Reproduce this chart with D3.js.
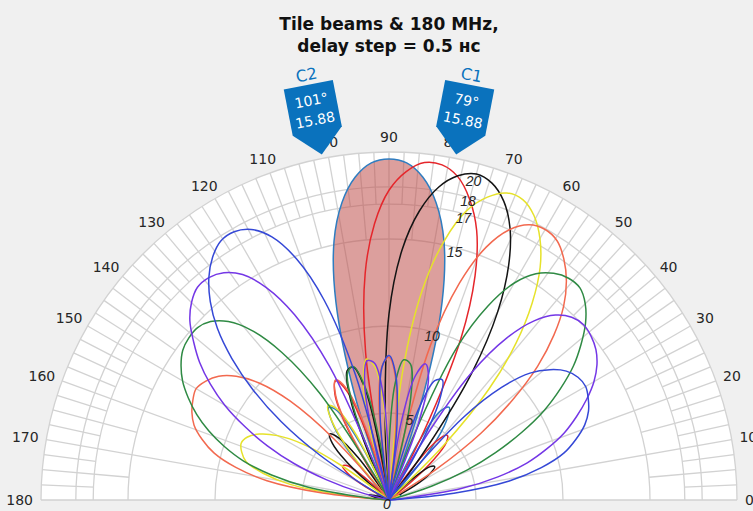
<!DOCTYPE html>
<html>
<head>
<meta charset="utf-8">
<script src="https://cdn.jsdelivr.net/npm/d3@7"></script>
<style>
  html, body { margin: 0; padding: 0; background: #f0f0f0; }
  svg { display: block; font-family: "DejaVu Sans", "Liberation Sans", Arial, sans-serif; }
</style>
</head>
<body>
<svg id="chart" width="753" height="511"></svg>
<script>
// Sampling angles (degrees) shared by every beam pattern
const thetaDeg = [0,3,6,9,12,15,18,21,24,27,30,33,36,39,42,45,48,51,54,57,60,
  63,66,69,72,75,78,81,84,87,90,93,96,99,102,105,108,111,114,117,120,
  123,126,129,132,135,138,141,144,147,150,153,156,159,162,165,168,171,174,177,180];

// Beam gain (radial value) for each delay setting, one value per angle above
const beam0 = [0,0,0,0,0,0,0,0.6,0.75,0.55,0,0,0,0,0,0,1.0,3.95,5.6,6.35,5.9,
  3.65,0,0,6.5,11.8,15.2,17.3,18.65,19.4,19.6,19.4,18.65,17.3,15.2,11.8,6.5,
  0,0,3.65,5.9,6.35,5.6,3.95,1.0,0,0,0,0,0,0,0.55,0.75,0.6,0,0,0,0,0,0,0];
const beam1 = [0,0,0,0,0,0,0,0,0,0,0,0,0,1.55,3.45,4.65,5.0,4.4,2.15,0,0,
  4.35,10.15,13.8,16.3,17.9,19.0,19.5,19.5,18.9,17.8,15.9,13.1,8.6,0,0,3.5,
  6.65,7.5,6.85,4.85,1.15,0,0,0,0.45,2.4,3.15,3.3,2.85,1.9,0.45,0,0,0,0,0,0,0,0,0];
const beam2 = [0,0,0,0,0,0,0,0,0,0.75,2.0,2.85,3.25,3.05,1.9,0,0,0,3.5,8.85,12.5,
  15.15,17.1,18.4,19.15,19.4,19.05,18.2,16.7,14.4,10.7,4.1,0,1.65,6.4,7.9,7.8,
  6.15,2.5,0,0,0,3.0,4.6,5.1,4.6,3.3,1.0,0,0,0,0,0,0,0.7,1.2,0.9,0,0,0,0];
const beam3 = [0,0,0,0,0,0,0,0.5,0.65,0.25,0,0,0,0,0,4.45,8.6,11.6,14.0,15.95,17.35,
  18.35,18.9,18.9,18.3,17.2,15.2,12.2,7.3,0,0,5.3,7.7,8.2,7.1,4.1,0,
  0,0.3,4.45,6.1,6.45,5.55,3.5,0,0,0,0,3.3,5.9,7.4,8.35,8.9,9.1,8.9,8.5,7.4,5.75,2.7,0,0];
const beam4 = [0,0,0,0,0,0,0,0,0,0,0,3.25,6.55,9.15,11.5,13.4,15.0,16.2,17.1,17.75,17.95,
  17.75,17.0,15.55,13.1,9.2,1.8,0,3.3,7.05,8.2,7.7,5.5,0.4,0,0,4.5,
  6.9,7.55,6.75,4.45,0,0,0,4.7,8.05,10.05,11.3,12.1,12.55,12.8,12.65,12.4,12.0,11.3,10.4,9.0,7.1,3.85,0,0];
const beam5 = [0,0,0,0,0,0.3,2.6,4.8,6.7,8.55,10.3,11.75,13.1,14.2,15.2,15.95,16.4,16.4,16.1,15.5,14.4,
  12.5,9.6,3.95,0,0.4,6.0,7.9,8.1,6.7,3.0,0,0,3.5,6.7,7.95,7.7,
  5.7,0.6,0,1.35,7.35,10.5,12.55,13.8,14.5,14.8,14.8,14.65,14.25,13.7,12.95,12.1,11.1,9.95,8.65,6.9,4.7,1.3,0,0];
const beam6 = [0,0,0.7,4.2,6.4,8.2,9.55,10.8,11.8,12.75,13.6,14.25,14.7,14.95,15.05,14.85,14.3,13.25,11.5,8.75,3.95,
  0,0,4.75,7.35,8.1,7.3,4.6,0,0,1.3,5.9,7.9,8.1,6.7,2.8,0,
  1.25,8.4,11.95,14.1,15.45,16.15,16.45,16.45,16.05,15.4,14.45,13.45,12.25,10.9,9.3,7.65,5.85,3.8,1.75,0,0,0,0,0];
const beam7 = [0,0,3.75,7.0,8.95,10.4,11.3,12.05,12.55,12.85,13.05,12.95,12.6,11.9,10.9,9.15,6.4,1.5,0,0,3.25,
  6.35,7.55,7.35,5.5,1.2,0,0,4.4,7.25,8.3,7.65,4.9,0,0,7.45,12.1,
  14.85,16.55,17.45,17.8,17.75,17.25,16.45,15.35,13.95,12.15,10.05,7.65,4.75,1.3,0,0,0,0,0,0,0,0,0,0];

const beams = [beam0, beam1, beam2, beam3, beam4, beam5, beam6, beam7];
const beamColors = ["#2f7dc0", "#e5262b", "#141414", "#e6e22a", "#f2694f", "#2f8a44", "#7437e6", "#3548d6"];

// Main-lobe span of the broadside beam that is shaded
const shadeFrom = 69, shadeTo = 111;

// Axis ticks
const rTicks = [0, 5, 10, 15, 17, 18, 20];
const thetaTicks = [0,10,20,30,40,50,60,70,80,90,100,110,120,130,140,150,160,170,180];

// Data tips
const tipNames = ["C2", "C1"];
const tipAngles = [101, 79];
const tipValues = [15.88, 15.88];

const titleLines = ["Tile beams & 180 MHz,", "delay step = 0.5 нс"];

// ---------- layout ----------
const cx = 389, cy = 500, R = 348;
const svg = d3.select("#chart");
const rScale = d3.scaleLinear().domain([0, 20]).range([0, R]);
const aScale = d3.scaleLinear().domain([0, 180]).range([Math.PI / 2, -Math.PI / 2]);
const rad = d => d * Math.PI / 180;

const g = svg.append("g").attr("transform", `translate(${cx},${cy})`);

// plot background (half disc)
g.append("path")
  .attr("d", d3.arc()({innerRadius: 0, outerRadius: R, startAngle: -Math.PI / 2, endAngle: Math.PI / 2}))
  .attr("fill", "#ffffff");

const grid = g.append("g").attr("fill", "none").attr("stroke", "#d2d2d2").attr("stroke-width", 1.3);

// spokes: major every 10°, minor every 5° in the outer band, finer every 2.5° at the rim
const spoke = (t, r0, r1) => {
  const a = rad(t);
  grid.append("line")
    .attr("x1", rScale(r0) * Math.cos(a)).attr("y1", -rScale(r0) * Math.sin(a))
    .attr("x2", rScale(r1) * Math.cos(a)).attr("y2", -rScale(r1) * Math.sin(a));
};
d3.range(2.5, 180, 5).forEach(t => spoke(t, 17, 20));
d3.range(5, 180, 10).forEach(t => spoke(t, 15, 20));
thetaTicks.forEach(t => spoke(t, 0, 20));

// rings
rTicks.filter(r => r > 0).forEach(r => {
  const p = d3.path();
  p.moveTo(-rScale(r), 0);
  p.arc(0, 0, rScale(r), Math.PI, 2 * Math.PI);
  grid.append("path").attr("d", p.toString());
});

// beams
const radial = d3.lineRadial()
  .angle(d => aScale(d[0]))
  .radius(d => rScale(d[1]))
  .curve(d3.curveCatmullRom.alpha(0.5));

const lobe = thetaDeg.map((t, i) => [t, beam0[i]]).filter(d => d[0] >= shadeFrom && d[0] <= shadeTo);
g.append("path")
  .attr("d", radial(lobe) + "Z")
  .attr("fill", "rgb(192,80,77)")
  .attr("fill-opacity", 0.55)
  .attr("stroke", "none");

beams.forEach((b, k) => {
  g.append("path")
    .attr("d", radial(thetaDeg.map((t, i) => [t, b[i]])))
    .attr("fill", "none")
    .attr("stroke", beamColors[k])
    .attr("stroke-width", 1.5)
    .attr("stroke-linejoin", "round");
});

// radial tick labels along the 75° spoke (outermost kept inside the rim)
const rLab = g.append("g").attr("font-size", 14).attr("font-style", "italic").attr("fill", "#262626")
  .attr("font-family", "'Liberation Sans', Arial, sans-serif")
  .attr("text-anchor", "middle");
rTicks.forEach(r => {
  const rr = Math.min(rScale(r), rScale(19.2));
  const a = rad(75);
  rLab.append("text")
    .attr("x", rr * Math.cos(a) - 2)
    .attr("y", -rr * Math.sin(a) + 4)
    .attr("dy", "0.35em")
    .text(r);
});

// theta tick labels
const tLab = g.append("g").attr("font-size", 14).attr("fill", "#262626").attr("text-anchor", "middle");
thetaTicks.forEach(t => {
  const a = rad(t);
  const txt = tLab.append("text").attr("dy", "0.35em").text(t);
  const w = txt.node().getComputedTextLength();
  const h = 14;
  const ar = R + 8;
  txt.attr("x", ar * Math.cos(a) + (w / 2) * Math.cos(a))
     .attr("y", -ar * Math.sin(a) - (h / 2) * Math.sin(a));
});

// data tips at the rim, pointing to the centre
const tips = g.append("g");
tipAngles.forEach((t, k) => {
  const a = rad(t);
  const rr = R + 4;
  const tg = tips.append("g")
    .attr("transform", `translate(${rr * Math.cos(a)},${-rr * Math.sin(a)}) rotate(${90 - t})`);
  tg.append("path")
    .attr("d", "M-25,-71 L25,-71 L25,-24 L0,0 L-25,-24 Z")
    .attr("fill", "#0a72bd");
  tg.append("text").attr("x", 0).attr("y", -55).attr("dy", "0.35em")
    .attr("text-anchor", "middle").attr("fill", "#ffffff").attr("font-size", 14)
    .text(`${t}°`);
  tg.append("text").attr("x", 0).attr("y", -35).attr("dy", "0.35em")
    .attr("text-anchor", "middle").attr("fill", "#ffffff").attr("font-size", 14)
    .text(tipValues[k].toFixed(2));
  tg.append("text").attr("x", 0).attr("y", -81).attr("dy", "0.35em")
    .attr("text-anchor", "middle").attr("fill", "#0a72bd").attr("font-size", 16)
    .text(tipNames[k]);
});

// title
svg.append("g").attr("font-weight", "bold").attr("font-size", 17).attr("fill", "#111")
  .attr("text-anchor", "middle")
  .selectAll("text").data(titleLines).join("text")
  .attr("x", 389).attr("y", (d, i) => 30 + i * 22)
  .text(d => d);
</script>
</body>
</html>
